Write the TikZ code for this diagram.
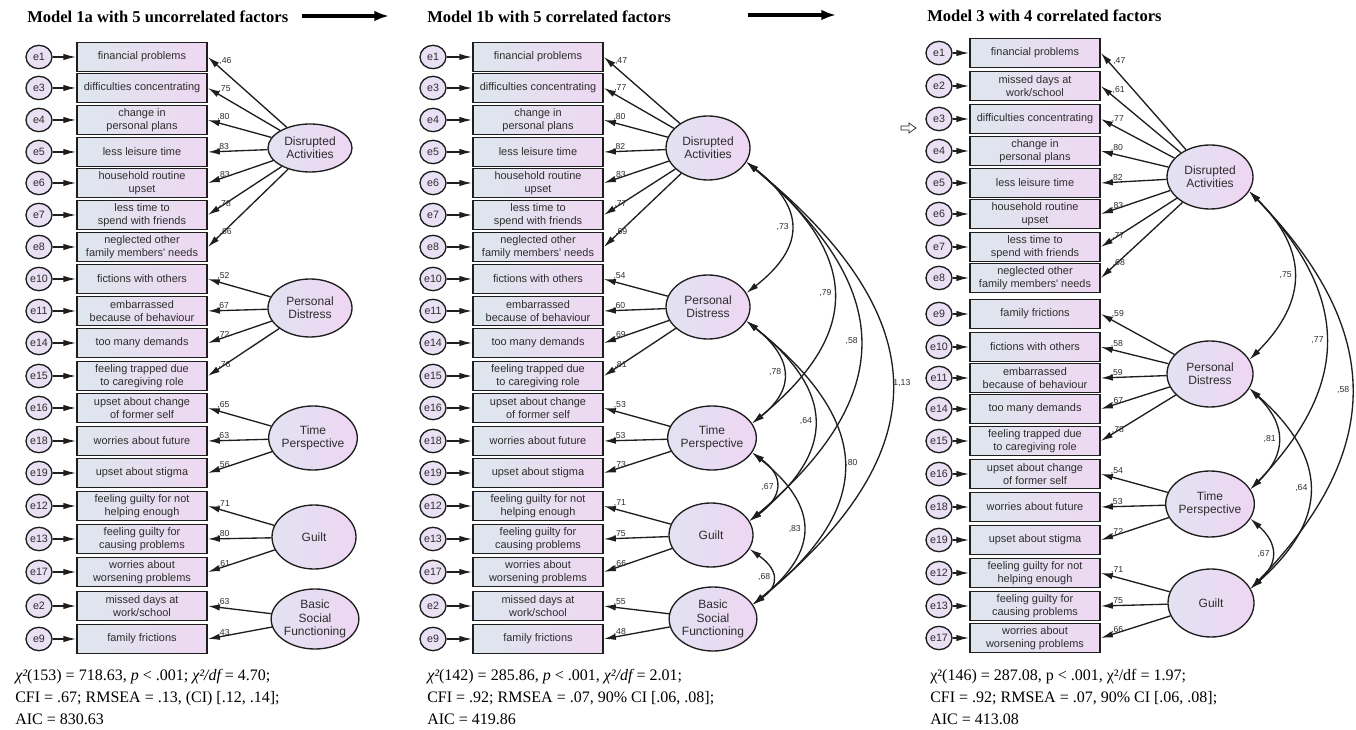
\documentclass[tikz,border=0pt]{standalone}
\usepackage{fontspec}
\setmainfont{Liberation Serif}
\newfontfamily\amosfont{Liberation Sans}
\usetikzlibrary{arrows.meta,shapes.geometric}

\definecolor{boxleft}{RGB}{222,230,238}
\definecolor{boxright}{RGB}{238,216,242}
\definecolor{latleft}{RGB}{226,226,242}
\definecolor{latright}{RGB}{238,214,242}
\definecolor{errfill}{RGB}{234,224,244}
\definecolor{linegray}{RGB}{30,30,30}
\definecolor{textgray}{RGB}{45,45,45}

\tikzset{
  modeltitle/.style={font=\bfseries\fontsize{12.4}{14}\selectfont, anchor=base west, inner sep=0pt},
  fitline/.style={font=\fontsize{12}{14}\selectfont, anchor=base west, inner sep=0pt},
  obs/.style={draw=linegray, line width=1.3pt, left color=boxleft, right color=boxright,
    minimum width=97.5pt, minimum height=21.75pt, inner sep=0pt, align=center,
    text=textgray, font=\amosfont\fontsize{8.2}{9.4}\selectfont},
  err/.style={ellipse, draw=linegray, line width=1pt, fill=errfill, minimum width=19.5pt,
    minimum height=17.5pt, inner sep=0pt, text=textgray, font=\amosfont\fontsize{8}{9}\selectfont},
  lat/.style={ellipse, draw=linegray, line width=1pt, left color=latleft, right color=latright,
    minimum width=63pt, minimum height=48pt, inner sep=0pt, align=center, text=textgray,
    font=\amosfont\fontsize{9}{10}\selectfont},
  errarr/.style={-{Latex[length=9.5pt,width=4.8pt]}, line width=1pt, draw=linegray},
  load/.style={-{Latex[length=9pt,width=4.8pt]}, line width=1pt, draw=linegray},
  corr/.style={{Latex[length=9pt,width=4.8pt]}-{Latex[length=9pt,width=4.8pt]}, line width=1pt, draw=linegray},
  lbl/.style={pos=0.87, anchor=south west, inner sep=0.5pt, text=textgray, font=\amosfont\fontsize{6.5}{7}\selectfont},
  clbl/.style={pos=0.5, inner sep=1pt, text=textgray, font=\amosfont\fontsize{6.5}{7}\selectfont},
  bigarrow/.style={-{Latex[length=11pt,width=8pt]}, line width=2.6pt}
}

\begin{document}
\begin{tikzpicture}[x=0.75pt,y=-0.75pt]
\useasboundingbox (0,0) rectangle (1356,730);

% titles
\node[modeltitle] (t1) at (27,23) {Model 1a with 5 uncorrelated factors};
\node[modeltitle] (t2) at (427,23) {Model 1b with 5 correlated factors};
\node[modeltitle] (t3) at (927,22) {Model 3 with 4 correlated factors};
\coordinate (go1a) at (302,16); \coordinate (go1b) at (389,16);
\coordinate (go2a) at (748,15); \coordinate (go2b) at (836,15);
\draw[bigarrow] (go1a) -- (go1b);
\draw[bigarrow] (go2a) -- (go2b);

% ---------------- Model 1a ----------------
\node[err] (m1e1) at (39,57) {e1};   \node[obs] (m1x1) at (142,57) {financial problems};
\node[err] (m1e3) at (39,88) {e3};   \node[obs] (m1x3) at (142,88) {difficulties concentrating};
\node[err] (m1e4) at (39,120) {e4};  \node[obs] (m1x4) at (142,120) {change in\\personal plans};
\node[err] (m1e5) at (39,152) {e5};  \node[obs] (m1x5) at (142,152) {less leisure time};
\node[err] (m1e6) at (39,183) {e6};  \node[obs] (m1x6) at (142,183) {household routine\\upset};
\node[err] (m1e7) at (39,215) {e7};  \node[obs] (m1x7) at (142,215) {less time to\\spend with friends};
\node[err] (m1e8) at (39,247) {e8};  \node[obs] (m1x8) at (142,247) {neglected other\\family members' needs};
\node[err] (m1e10) at (39,279) {e10}; \node[obs] (m1x10) at (142,279) {fictions with others};
\node[err] (m1e11) at (39,311) {e11}; \node[obs] (m1x11) at (142,311) {embarrassed\\because of behaviour};
\node[err] (m1e14) at (39,343) {e14}; \node[obs] (m1x14) at (142,343) {too many demands};
\node[err] (m1e15) at (39,376) {e15}; \node[obs] (m1x15) at (142,376) {feeling trapped due\\to caregiving role};
\node[err] (m1e16) at (39,408) {e16}; \node[obs] (m1x16) at (142,408) {upset about change\\of former self};
\node[err] (m1e18) at (39,441) {e18}; \node[obs] (m1x18) at (142,441) {worries about future};
\node[err] (m1e19) at (39,473) {e19}; \node[obs] (m1x19) at (142,473) {upset about stigma};
\node[err] (m1e12) at (39,506) {e12}; \node[obs] (m1x12) at (142,506) {feeling guilty for not\\helping enough};
\node[err] (m1e13) at (39,539) {e13}; \node[obs] (m1x13) at (142,539) {feeling guilty for\\causing problems};
\node[err] (m1e17) at (39,572) {e17}; \node[obs] (m1x17) at (142,572) {worries about\\worsening problems};
\node[err] (m1e2) at (39,606) {e2};  \node[obs] (m1x2) at (142,606) {missed days at\\work/school};
\node[err] (m1e9) at (39,639) {e9};  \node[obs] (m1x9) at (142,639) {family frictions};
\foreach \k in {1,...,19} {\draw[errarr] (m1e\k) -- (m1x\k);}

\node[lat, minimum height=36pt] (m1DA) at (310,148) {Disrupted\\Activities};
\node[lat, minimum height=43.5pt] (m1PD) at (310,308) {Personal\\Distress};
\node[lat] (m1TP) at (313,438) {Time\\Perspective};
\node[lat] (m1G) at (314,537) {Guilt};
\node[lat, minimum height=45pt] (m1BS) at (315,619) {Basic\\Social\\Functioning};

\draw[load] (m1DA) -- (m1x1.east) node[lbl] {,46};
\draw[load] (m1DA) -- (m1x3.east) node[lbl] {,75};
\draw[load] (m1DA) -- (m1x4.east) node[lbl] {,80};
\draw[load] (m1DA) -- (m1x5.east) node[lbl] {,83};
\draw[load] (m1DA) -- (m1x6.east) node[lbl] {,83};
\draw[load] (m1DA) -- (m1x7.east) node[lbl] {,78};
\draw[load] (m1DA) -- (m1x8.east) node[lbl] {,66};
\draw[load] (m1PD) -- (m1x10.east) node[lbl] {,52};
\draw[load] (m1PD) -- (m1x11.east) node[lbl] {,67};
\draw[load] (m1PD) -- (m1x14.east) node[lbl] {,72};
\draw[load] (m1PD) -- (m1x15.east) node[lbl] {,76};
\draw[load] (m1TP) -- (m1x16.east) node[lbl] {,65};
\draw[load] (m1TP) -- (m1x18.east) node[lbl] {,63};
\draw[load] (m1TP) -- (m1x19.east) node[lbl] {,56};
\draw[load] (m1G) -- (m1x12.east) node[lbl] {,71};
\draw[load] (m1G) -- (m1x13.east) node[lbl] {,80};
\draw[load] (m1G) -- (m1x17.east) node[lbl] {,61};
\draw[load] (m1BS) -- (m1x2.east) node[lbl] {,63};
\draw[load] (m1BS) -- (m1x9.east) node[lbl] {,43};

\node[fitline] (f1a) at (15,680) {{\itshape χ²}(153) = 718.63, {\itshape p} < .001; {\itshape χ²/df} = 4.70;};
\node[fitline] (f1b) at (15,702) {CFI = .67; RMSEA = .13, (CI) [.12, .14];};
\node[fitline] (f1c) at (15,724) {AIC = 830.63};

% ---------------- Model 1b ----------------
\node[err] (m2e1) at (433,57) {e1};   \node[obs] (m2x1) at (538,57) {financial problems};
\node[err] (m2e3) at (433,88) {e3};   \node[obs] (m2x3) at (538,88) {difficulties concentrating};
\node[err] (m2e4) at (433,120) {e4};  \node[obs] (m2x4) at (538,120) {change in\\personal plans};
\node[err] (m2e5) at (433,152) {e5};  \node[obs] (m2x5) at (538,152) {less leisure time};
\node[err] (m2e6) at (433,183) {e6};  \node[obs] (m2x6) at (538,183) {household routine\\upset};
\node[err] (m2e7) at (433,215) {e7};  \node[obs] (m2x7) at (538,215) {less time to\\spend with friends};
\node[err] (m2e8) at (433,247) {e8};  \node[obs] (m2x8) at (538,247) {neglected other\\family members' needs};
\node[err] (m2e10) at (433,279) {e10}; \node[obs] (m2x10) at (538,279) {fictions with others};
\node[err] (m2e11) at (433,311) {e11}; \node[obs] (m2x11) at (538,311) {embarrassed\\because of behaviour};
\node[err] (m2e14) at (433,343) {e14}; \node[obs] (m2x14) at (538,343) {too many demands};
\node[err] (m2e15) at (433,376) {e15}; \node[obs] (m2x15) at (538,376) {feeling trapped due\\to caregiving role};
\node[err] (m2e16) at (433,408) {e16}; \node[obs] (m2x16) at (538,408) {upset about change\\of former self};
\node[err] (m2e18) at (433,441) {e18}; \node[obs] (m2x18) at (538,441) {worries about future};
\node[err] (m2e19) at (433,473) {e19}; \node[obs] (m2x19) at (538,473) {upset about stigma};
\node[err] (m2e12) at (433,506) {e12}; \node[obs] (m2x12) at (538,506) {feeling guilty for not\\helping enough};
\node[err] (m2e13) at (433,539) {e13}; \node[obs] (m2x13) at (538,539) {feeling guilty for\\causing problems};
\node[err] (m2e17) at (433,572) {e17}; \node[obs] (m2x17) at (538,572) {worries about\\worsening problems};
\node[err] (m2e2) at (433,606) {e2};  \node[obs] (m2x2) at (538,606) {missed days at\\work/school};
\node[err] (m2e9) at (433,639) {e9};  \node[obs] (m2x9) at (538,639) {family frictions};
\foreach \k in {1,...,19} {\draw[errarr] (m2e\k) -- (m2x\k);}

\node[lat] (m2DA) at (708,148) {Disrupted\\Activities};
\node[lat] (m2PD) at (708,307) {Personal\\Distress};
\node[lat] (m2TP) at (712,438) {Time\\Perspective};
\node[lat] (m2G) at (711,535) {Guilt};
\node[lat] (m2BS) at (713,619) {Basic\\Social\\Functioning};

\draw[load] (m2DA) -- (m2x1.east) node[lbl] {,47};
\draw[load] (m2DA) -- (m2x3.east) node[lbl] {,77};
\draw[load] (m2DA) -- (m2x4.east) node[lbl] {,80};
\draw[load] (m2DA) -- (m2x5.east) node[lbl] {,82};
\draw[load] (m2DA) -- (m2x6.east) node[lbl] {,83};
\draw[load] (m2DA) -- (m2x7.east) node[lbl] {,77};
\draw[load] (m2DA) -- (m2x8.east) node[lbl] {,69};
\draw[load] (m2PD) -- (m2x10.east) node[lbl] {,54};
\draw[load] (m2PD) -- (m2x11.east) node[lbl] {,60};
\draw[load] (m2PD) -- (m2x14.east) node[lbl] {,69};
\draw[load] (m2PD) -- (m2x15.east) node[lbl] {,81};
\draw[load] (m2TP) -- (m2x16.east) node[lbl] {,53};
\draw[load] (m2TP) -- (m2x18.east) node[lbl] {,53};
\draw[load] (m2TP) -- (m2x19.east) node[lbl] {,73};
\draw[load] (m2G) -- (m2x12.east) node[lbl] {,71};
\draw[load] (m2G) -- (m2x13.east) node[lbl] {,75};
\draw[load] (m2G) -- (m2x17.east) node[lbl] {,66};
\draw[load] (m2BS) -- (m2x2.east) node[lbl] {,55};
\draw[load] (m2BS) -- (m2x9.east) node[lbl] {,48};

% correlations
\draw[corr] (m2DA.-20) .. controls +(59,46) and +(59,-46) .. (m2PD.20) node[clbl, left] {,73};
\draw[corr] (m2DA.-20) .. controls +(112,92) and +(112,-92) .. (m2TP.20) node[clbl, left] {,79};
\draw[corr] (m2DA.-20) .. controls +(149,126) and +(149,-126) .. (m2G.20) node[clbl, left] {,58};
\draw[corr] (m2DA.-20) .. controls +(189,155) and +(189,-155) .. (m2BS.20) node[clbl, right] {1,13};
\draw[corr] (m2PD.-20) .. controls +(45,36) and +(45,-36) .. (m2TP.20) node[clbl, left] {,78};
\draw[corr] (m2PD.-20) .. controls +(88,70) and +(88,-70) .. (m2G.20) node[clbl, left] {,64};
\draw[corr] (m2PD.-20) .. controls +(125,100) and +(125,-100) .. (m2BS.20) node[clbl, right] {,80};
\draw[corr] (m2TP.-20) .. controls +(33,24) and +(33,-24) .. (m2G.20) node[clbl, left] {,67};
\draw[corr] (m2TP.-20) .. controls +(67,54) and +(67,-54) .. (m2BS.20) node[clbl, left] {,83};
\draw[corr] (m2G.-20) .. controls +(28,20) and +(28,-20) .. (m2BS.20) node[clbl, left] {,68};

\node[fitline] (f2a) at (427,680) {{\itshape χ²}(142) = 285.86, {\itshape p} < .001, {\itshape χ²/df} = 2.01;};
\node[fitline] (f2b) at (427,702) {CFI = .92; RMSEA = .07, 90\% CI [.06, .08];};
\node[fitline] (f2c) at (427,724) {AIC = 419.86};

% ---------------- Model 3 ----------------
\draw[linegray, line width=0.5pt] (901,126) -- (909,126) -- (909,123) -- (916,128) -- (909,133) -- (909,130) -- (901,130) -- cycle;

\node[err] (m3e1) at (939,53) {e1};   \node[obs] (m3x1) at (1035,53) {financial problems};
\node[err] (m3e2) at (939,86) {e2};   \node[obs] (m3x2) at (1035,86) {missed days at\\work/school};
\node[err] (m3e3) at (939,119) {e3};  \node[obs] (m3x3) at (1035,119) {difficulties concentrating};
\node[err] (m3e4) at (939,151) {e4};  \node[obs] (m3x4) at (1035,151) {change in\\personal plans};
\node[err] (m3e5) at (939,183) {e5};  \node[obs] (m3x5) at (1035,183) {less leisure time};
\node[err] (m3e6) at (939,214) {e6};  \node[obs] (m3x6) at (1035,214) {household routine\\upset};
\node[err] (m3e7) at (939,247) {e7};  \node[obs] (m3x7) at (1035,247) {less time to\\spend with friends};
\node[err] (m3e8) at (939,278) {e8};  \node[obs] (m3x8) at (1035,278) {neglected other\\family members' needs};
\node[err] (m3e9) at (939,314) {e9};  \node[obs] (m3x9) at (1035,314) {family frictions};
\node[err] (m3e10) at (939,347) {e10}; \node[obs] (m3x10) at (1035,347) {fictions with others};
\node[err] (m3e11) at (939,378) {e11}; \node[obs] (m3x11) at (1035,378) {embarrassed\\because of behaviour};
\node[err] (m3e14) at (939,409) {e14}; \node[obs] (m3x14) at (1035,409) {too many demands};
\node[err] (m3e15) at (939,441) {e15}; \node[obs] (m3x15) at (1035,441) {feeling trapped due\\to caregiving role};
\node[err] (m3e16) at (939,474) {e16}; \node[obs] (m3x16) at (1035,474) {upset about change\\of former self};
\node[err] (m3e18) at (939,507) {e18}; \node[obs] (m3x18) at (1035,507) {worries about future};
\node[err] (m3e19) at (939,540) {e19}; \node[obs] (m3x19) at (1035,540) {upset about stigma};
\node[err] (m3e12) at (939,573) {e12}; \node[obs] (m3x12) at (1035,573) {feeling guilty for not\\helping enough};
\node[err] (m3e13) at (939,606) {e13}; \node[obs] (m3x13) at (1035,606) {feeling guilty for\\causing problems};
\node[err] (m3e17) at (939,638) {e17}; \node[obs] (m3x17) at (1035,638) {worries about\\worsening problems};
\foreach \k in {1,...,19} {\draw[errarr] (m3e\k) -- (m3x\k);}

\node[lat, minimum width=64.5pt, minimum height=48pt] (m3DA) at (1210,177) {Disrupted\\Activities};
\node[lat, minimum width=64.5pt, minimum height=49.5pt] (m3PD) at (1210,374) {Personal\\Distress};
\node[lat, minimum width=64.5pt, minimum height=49.5pt] (m3TP) at (1210,504) {Time\\Perspective};
\node[lat, minimum width=64.5pt, minimum height=51pt] (m3G) at (1211,603) {Guilt};

\draw[load] (m3DA) -- (m3x1.east) node[lbl] {,47};
\draw[load] (m3DA) -- (m3x2.east) node[lbl] {,61};
\draw[load] (m3DA) -- (m3x3.east) node[lbl] {,77};
\draw[load] (m3DA) -- (m3x4.east) node[lbl] {,80};
\draw[load] (m3DA) -- (m3x5.east) node[lbl] {,82};
\draw[load] (m3DA) -- (m3x6.east) node[lbl] {,83};
\draw[load] (m3DA) -- (m3x7.east) node[lbl] {,77};
\draw[load] (m3DA) -- (m3x8.east) node[lbl] {,68};
\draw[load] (m3PD) -- (m3x9.east) node[lbl] {,59};
\draw[load] (m3PD) -- (m3x10.east) node[lbl] {,58};
\draw[load] (m3PD) -- (m3x11.east) node[lbl] {,59};
\draw[load] (m3PD) -- (m3x14.east) node[lbl] {,67};
\draw[load] (m3PD) -- (m3x15.east) node[lbl] {,78};
\draw[load] (m3TP) -- (m3x16.east) node[lbl] {,54};
\draw[load] (m3TP) -- (m3x18.east) node[lbl] {,53};
\draw[load] (m3TP) -- (m3x19.east) node[lbl] {,72};
\draw[load] (m3G) -- (m3x12.east) node[lbl] {,71};
\draw[load] (m3G) -- (m3x13.east) node[lbl] {,75};
\draw[load] (m3G) -- (m3x17.east) node[lbl] {,66};

% correlations
\draw[corr] (m3DA.-20) .. controls +(59,59) and +(59,-59) .. (m3PD.20) node[clbl, left] {,75};
\draw[corr] (m3DA.-20) .. controls +(101,105) and +(101,-105) .. (m3TP.20) node[clbl, left] {,77};
\draw[corr] (m3DA.-20) .. controls +(135,139) and +(135,-139) .. (m3G.20) node[clbl, left] {,58};
\draw[corr] (m3PD.-20) .. controls +(37,36) and +(37,-36) .. (m3TP.20) node[clbl, left] {,81};
\draw[corr] (m3PD.-20) .. controls +(79,70) and +(79,-70) .. (m3G.20) node[clbl, left] {,64};
\draw[corr] (m3TP.-20) .. controls +(28,25) and +(28,-25) .. (m3G.20) node[clbl, left] {,67};

\node[fitline] (f3a) at (930,680) {χ²(146) = 287.08, p < .001, χ²/df = 1.97;};
\node[fitline] (f3b) at (930,702) {CFI = .92; RMSEA = .07, 90\% CI [.06, .08];};
\node[fitline] (f3c) at (930,724) {AIC = 413.08};
\end{tikzpicture}
\end{document}
